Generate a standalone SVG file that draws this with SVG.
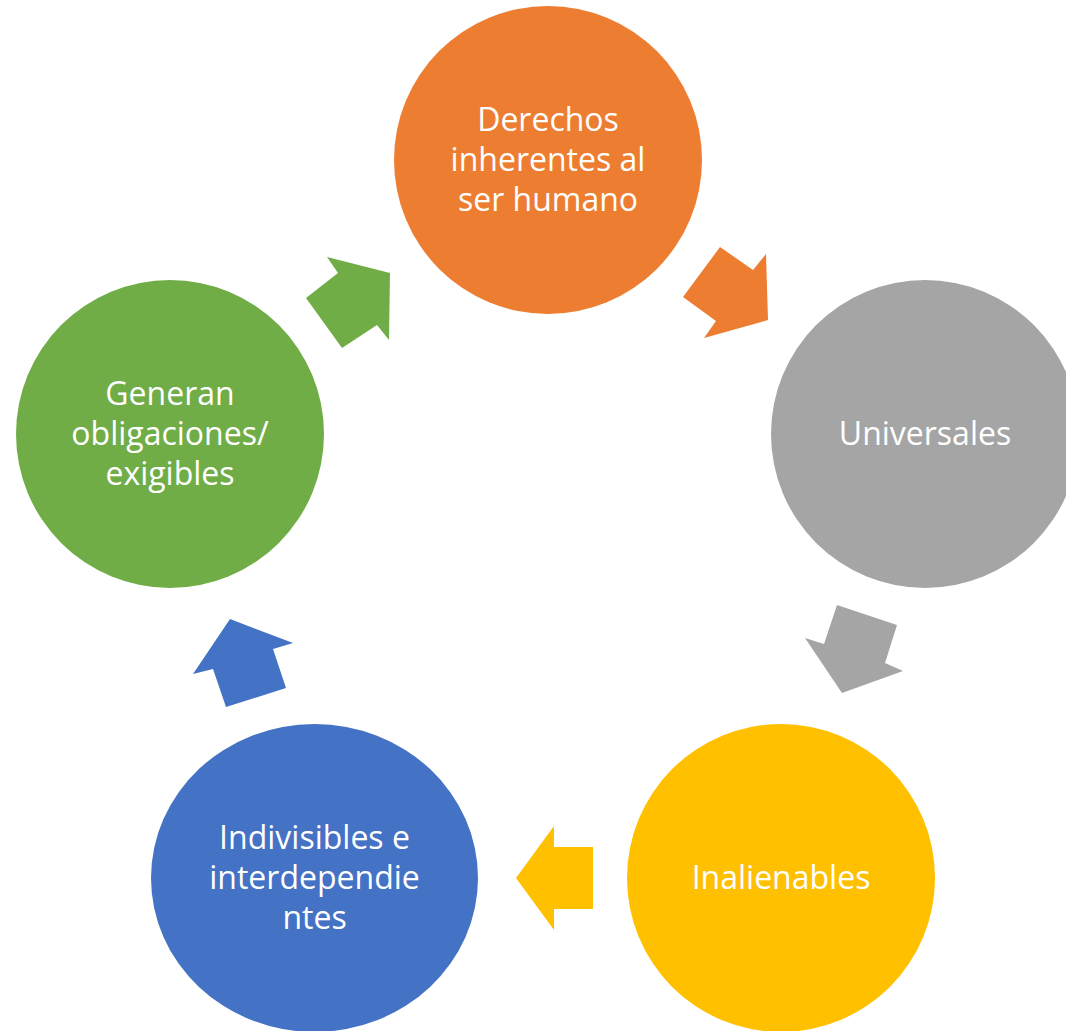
<svg xmlns="http://www.w3.org/2000/svg" width="1066" height="1031" viewBox="0 0 1066 1031">
<style>
.t{font-family:"Open Sans","Noto Sans",sans-serif;font-size:32px;fill:#fff;text-anchor:middle}
</style>
<rect width="1066" height="1031" fill="#fff"/>
<g id="connectors">
<polygon fill="#ED7D31" points="720,247 753,270 766,254 768,320 704,338 716,321 683,297"/>
<polygon fill="#A5A5A5" points="837,605 897,625 885,663 903,671 842,693 805,638 824,644"/>
<polygon fill="#FFC000" points="554,826 554,847 593,847 593,909 554,909 554,930 516,878"/>
<polygon fill="#4472C4" points="230,619 293,643 273,649 286,688 226,707 213,669 193,674"/>
<polygon fill="#70AD47" points="327,257 390,273 389,340 377,325 342,348 306,298 338,273"/>
</g>
<g id="n1">
<circle cx="548" cy="160" r="154" fill="#ED7D31"/>
<text class="t" x="548" y="131">Derechos</text>
<text class="t" x="548" y="171">inherentes al</text>
<text class="t" x="548" y="211">ser humano</text>
</g>
<g id="n2">
<circle cx="925" cy="434" r="154" fill="#A5A5A5"/>
<text class="t" x="925" y="445">Universales</text>
</g>
<g id="n3">
<circle cx="781" cy="878" r="154" fill="#FFC000"/>
<text class="t" x="781" y="889">Inalienables</text>
</g>
<g id="n4">
<ellipse cx="314.5" cy="878" rx="163.5" ry="154" fill="#4472C4"/>
<text class="t" x="314.5" y="849">Indivisibles e</text>
<text class="t" x="314.5" y="889">interdependie</text>
<text class="t" x="314.5" y="929">ntes</text>
</g>
<g id="n5">
<circle cx="170" cy="434" r="154" fill="#70AD47"/>
<text class="t" x="170" y="405">Generan</text>
<text class="t" x="170" y="445">obligaciones/</text>
<text class="t" x="170" y="485">exigibles</text>
</g>
</svg>
